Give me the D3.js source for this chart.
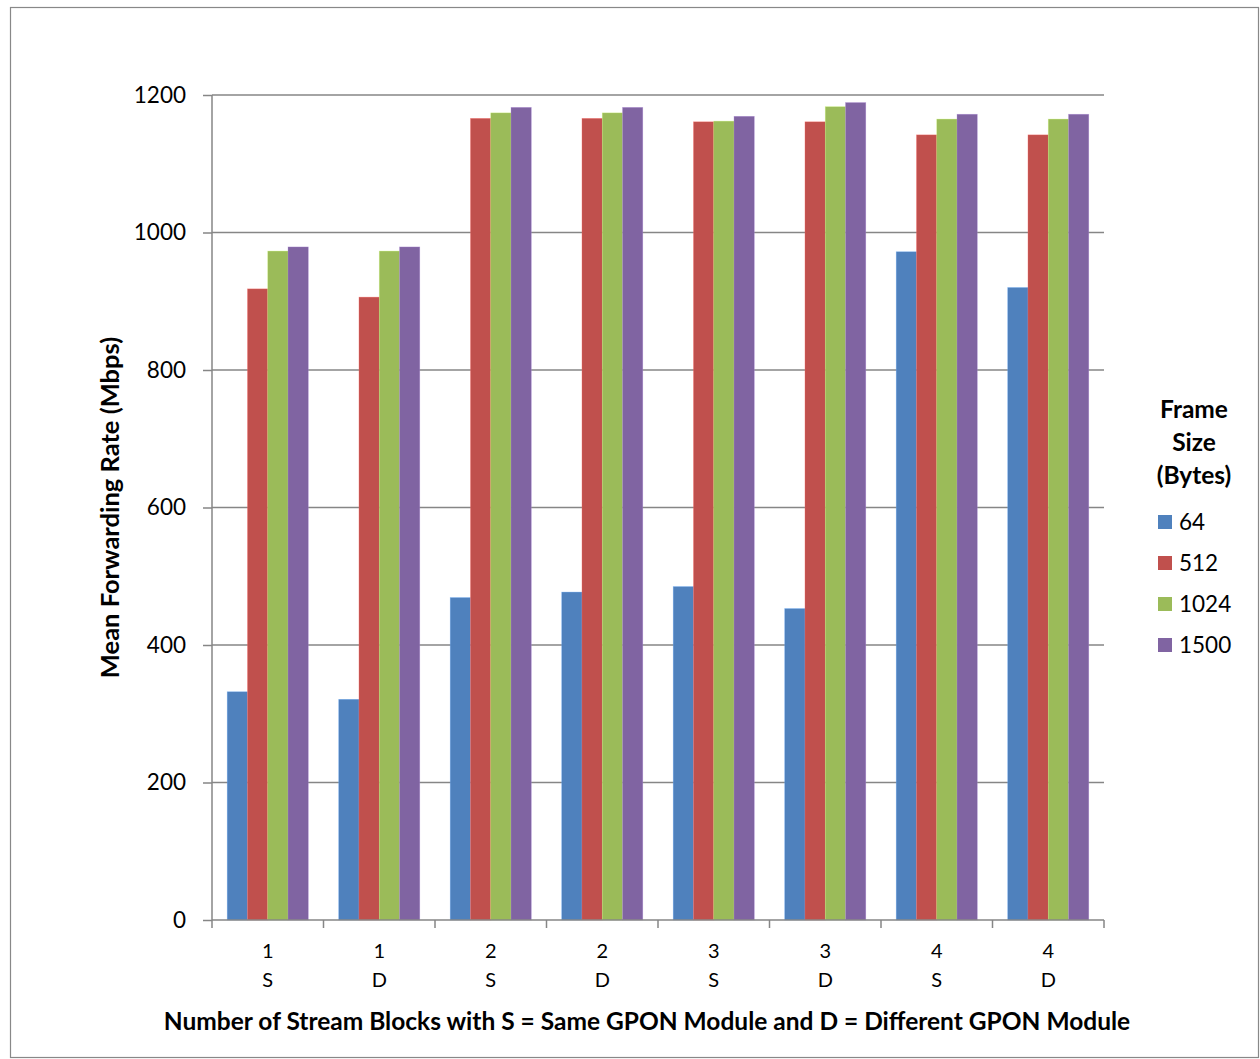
<!DOCTYPE html>
<html>
<head>
<meta charset="utf-8">
<script src="https://cdn.jsdelivr.net/npm/d3@7"></script>
<style>
  html, body { margin: 0; padding: 0; background: #fff; }
  svg { display: block; font-family: Lato, "Open Sans", "Liberation Sans", sans-serif; }
</style>
</head>
<body>
<svg id="chart" width="1260" height="1059"></svg>
<script>
// Categories: number of stream blocks, S = same GPON module, D = different
const groups = ["1|S", "1|D", "2|S", "2|D", "3|S", "3|D", "4|S", "4|D"];
const frameSizes = ["64", "512", "1024", "1500"];
const colors = ["#4F81BD", "#C0504D", "#9BBB59", "#8064A2"];

// Mean forwarding rate (Mbps) per frame size
const rate64   = [332, 321, 469, 477, 485, 453, 972, 920];
const rate512  = [918, 906, 1166, 1166, 1161, 1161, 1142, 1142];
const rate1024 = [973, 973, 1174, 1174, 1162, 1183, 1165, 1165];
const rate1500 = [979, 979, 1182, 1182, 1169, 1189, 1172, 1172];
const yTicks = [0, 200, 400, 600, 800, 1000, 1200];

const series = [rate64, rate512, rate1024, rate1500];

const svg = d3.select("#chart");
const W = 1260, H = 1059;
const plot = { left: 212, right: 1104, top: 95, bottom: 920 };

// Outer frame
svg.append("rect")
  .attr("x", 10.5).attr("y", 7.5)
  .attr("width", W - 12).attr("height", H - 9)
  .attr("fill", "none").attr("stroke", "#888").attr("stroke-width", 1.2);

const x = d3.scaleBand().domain(groups).range([plot.left, plot.right]).padding(0);
const inner = d3.scaleBand().domain(frameSizes)
  .range([0, x.bandwidth()]).paddingInner(0).paddingOuter(0.75);
const y = d3.scaleLinear().domain([0, 1200]).range([plot.bottom, plot.top]);

// Gridlines
svg.append("g")
  .selectAll("line").data(yTicks.filter(d => d > 0)).join("line")
  .attr("x1", plot.left).attr("x2", plot.right)
  .attr("y1", d => y(d)).attr("y2", d => y(d))
  .attr("stroke", "#868686").attr("stroke-width", 1.5);

// Bars
const barG = svg.append("g");
series.forEach((vals, si) => {
  barG.selectAll(null).data(vals).join("rect")
    .attr("x", (d, i) => x(groups[i]) + inner(frameSizes[si]))
    .attr("width", inner.bandwidth())
    .attr("y", d => y(d))
    .attr("height", d => y(0) - y(d))
    .attr("fill", colors[si])
    .attr("stroke", d3.color(colors[si]).brighter(0.8))
    .attr("stroke-opacity", 0.5)
    .attr("stroke-width", 0.6);
});

// Y axis
const yAxis = svg.append("g")
  .attr("transform", `translate(${plot.left},0)`)
  .call(d3.axisLeft(y).tickValues(yTicks).tickSize(9).tickPadding(17).tickFormat(d3.format("d")));
yAxis.select(".domain").attr("stroke", "#868686").attr("stroke-width", 1.5)
  .attr("d", `M0,${plot.top}V${plot.bottom}`);
yAxis.selectAll(".tick line").attr("stroke", "#868686").attr("stroke-width", 1.5);
yAxis.selectAll(".tick text").attr("font-size", 22.5).attr("fill", "#000")
  .attr("font-family", "Lato, 'Open Sans', sans-serif");

// X axis with boundary ticks between categories
const xAxisG = svg.append("g").attr("transform", `translate(0,${plot.bottom})`);
xAxisG.append("line")
  .attr("x1", plot.left).attr("x2", plot.right)
  .attr("stroke", "#868686").attr("stroke-width", 1.5);
const bounds = groups.map(g => x(g)).concat([plot.right]);
xAxisG.selectAll(".bt").data(bounds).join("line")
  .attr("x1", d => d).attr("x2", d => d)
  .attr("y1", 0).attr("y2", 8)
  .attr("stroke", "#868686").attr("stroke-width", 1.5);
const xl = xAxisG.selectAll(".xl").data(groups).join("text")
  .attr("text-anchor", "middle")
  .attr("font-size", 20).attr("fill", "#000");
xl.append("tspan").attr("x", g => x(g) + x.bandwidth() / 2).attr("y", 38).text(g => g.split("|")[0]);
xl.append("tspan").attr("x", g => x(g) + x.bandwidth() / 2).attr("y", 67).text(g => g.split("|")[1]);

// Axis titles
svg.append("text")
  .attr("transform", `translate(119,${(plot.top + plot.bottom) / 2}) rotate(-90)`)
  .attr("text-anchor", "middle")
  .attr("font-size", 25.5).attr("font-weight", "bold").attr("fill", "#000")
  .text("Mean Forwarding Rate (Mbps)");

svg.append("text")
  .attr("x", 647).attr("y", 1030)
  .attr("text-anchor", "middle")
  .attr("font-size", 24.5).attr("font-weight", "bold").attr("fill", "#000")
  .text("Number of Stream Blocks with S = Same GPON Module and D = Different GPON Module");

// Legend
const legend = svg.append("g");
["Frame", "Size", "(Bytes)"].forEach((t, i) => {
  legend.append("text")
    .attr("x", 1194).attr("y", 418 + i * 33)
    .attr("text-anchor", "middle")
    .attr("font-size", 24.5).attr("font-weight", "bold").attr("fill", "#000")
    .text(t);
});
const items = legend.selectAll(".li").data(frameSizes).join("g")
  .attr("transform", (d, i) => `translate(1158,${515 + i * 41})`);
items.append("rect").attr("width", 14).attr("height", 14)
  .attr("fill", (d, i) => colors[i]);
items.append("text").attr("x", 21).attr("y", 15)
  .attr("font-size", 22.5).attr("fill", "#000")
  .text(d => d);
</script>
</body>
</html>
